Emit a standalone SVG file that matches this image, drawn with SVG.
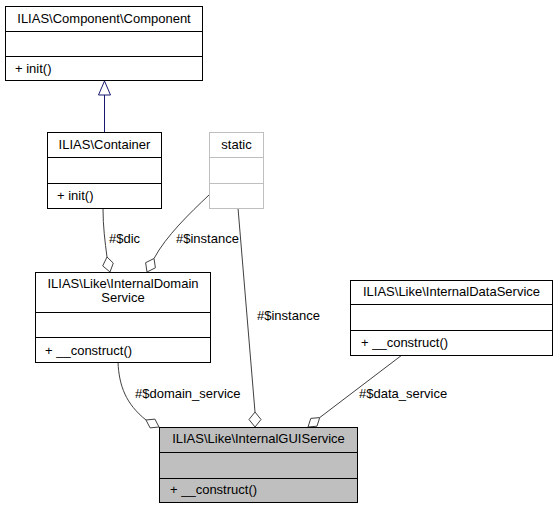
<svg xmlns="http://www.w3.org/2000/svg" width="559" height="509" viewBox="0 0 559 509">
<style>
text{font-family:"Liberation Sans",Arial,sans-serif;font-size:13px;fill:#000}
.c{text-anchor:middle}
.box{fill:#fff;stroke:#000;stroke-width:1}
.grey{fill:#fff;stroke:#bfbfbf;stroke-width:1}
.cur{fill:#bfbfbf;stroke:#000;stroke-width:1}
.e{fill:none;stroke:#404040;stroke-width:1}
.d{fill:#fff;stroke:#404040;stroke-width:1}
.inh{fill:none;stroke:#191970;stroke-width:1}
</style>
<rect width="559" height="509" fill="#fff"/>
<g id="connectors">
<path class="inh" d="M104.5,95 L104.5,132"/>
<polygon points="104.5,81 98.5,95 110.5,95" fill="#fff" stroke="#191970"/>
<path class="e" d="M103,209 C103,226 105,242 107,257"/>
<polygon class="d" points="110,272 113.3,263.1 107,257 102.7,265.9"/>
<text x="109" y="243">#$dic</text>
<path class="e" d="M209,195 C190,213 166,236 154,258.5"/>
<polygon class="d" points="147,272 155.4,267.8 154,258.5 145.6,262.7"/>
<text x="176" y="243">#$instance</text>
<path class="e" d="M238,208 L255,412"/>
<polygon class="d" points="255,427 261,419.5 255,412 249,419.5"/>
<text x="257" y="320">#$instance</text>
<path class="e" d="M118,362 C119,386 126,404 146,420"/>
<polygon class="d" points="159,427 154.9,419.1 146,420 150.1,427.9"/>
<text x="135" y="398">#$domain_service</text>
<path class="e" d="M402,355 L319.7,417.6"/>
<polygon class="d" points="308,427 317,426.2 319.7,417.6 310.8,418.4"/>
<text x="359" y="398">#$data_service</text>
</g>
<g id="node-component">
<rect class="box" x="5.5" y="6.5" width="197" height="74"/>
<line x1="5.5" y1="31.5" x2="202.5" y2="31.5" stroke="#000"/>
<line x1="5.5" y1="56.5" x2="202.5" y2="56.5" stroke="#000"/>
<text class="c" x="104" y="23">ILIAS\Component\Component</text>
<text x="15" y="73">+ init()</text>
</g>
<g id="node-container">
<rect class="box" x="47.5" y="132.5" width="114" height="76"/>
<line x1="47.5" y1="157.5" x2="161.5" y2="157.5" stroke="#000"/>
<line x1="47.5" y1="183.5" x2="161.5" y2="183.5" stroke="#000"/>
<text class="c" x="104.5" y="149">ILIAS\Container</text>
<text x="57" y="200">+ init()</text>
</g>
<g id="node-static">
<rect class="grey" x="209.5" y="132.5" width="54" height="76"/>
<line x1="209.5" y1="157.5" x2="263.5" y2="157.5" stroke="#bfbfbf"/>
<line x1="209.5" y1="183.5" x2="263.5" y2="183.5" stroke="#bfbfbf"/>
<text class="c" x="236.5" y="149">static</text>
</g>
<g id="node-domain">
<rect class="box" x="35.5" y="272.5" width="175" height="90"/>
<line x1="35.5" y1="312.5" x2="210.5" y2="312.5" stroke="#000"/>
<line x1="35.5" y1="337.5" x2="210.5" y2="337.5" stroke="#000"/>
<text class="c" x="123" y="288">ILIAS\Like\InternalDomain</text>
<text class="c" x="123" y="302">Service</text>
<text x="45" y="355">+ __construct()</text>
</g>
<g id="node-data">
<rect class="box" x="350.5" y="280.5" width="202" height="75"/>
<line x1="350.5" y1="304.5" x2="552.5" y2="304.5" stroke="#000"/>
<line x1="350.5" y1="330.5" x2="552.5" y2="330.5" stroke="#000"/>
<text class="c" x="451.5" y="296">ILIAS\Like\InternalDataService</text>
<text x="361" y="347">+ __construct()</text>
</g>
<g id="node-gui">
<rect class="cur" x="159.5" y="427.5" width="198" height="75"/>
<line x1="159.5" y1="452.5" x2="357.5" y2="452.5" stroke="#000"/>
<line x1="159.5" y1="478.5" x2="357.5" y2="478.5" stroke="#000"/>
<text class="c" x="258.5" y="443">ILIAS\Like\InternalGUIService</text>
<text x="170" y="494">+ __construct()</text>
</g>
</svg>
